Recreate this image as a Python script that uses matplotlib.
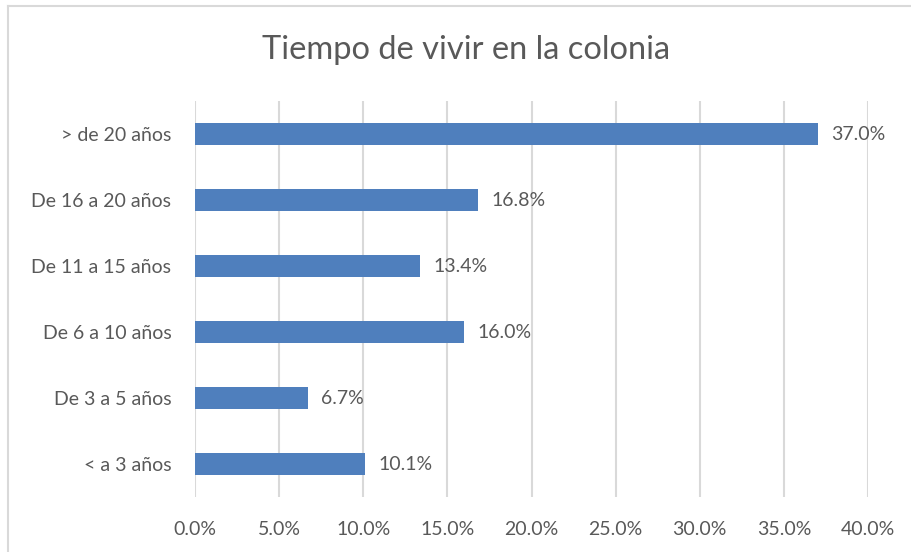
import matplotlib.pyplot as plt
from matplotlib.lines import Line2D

# Data (bottom to top as drawn)
categories = ['< a 3 años', 'De 3 a 5 años', 'De 6 a 10 años',
              'De 11 a 15 años', 'De 16 a 20 años', '> de 20 años']
values = [10.1, 6.7, 16.0, 13.4, 16.8, 37.0]
xticks = [0, 5, 10, 15, 20, 25, 30, 35, 40]

bar_color = '#4f7fbd'
text_color = '#595959'
grid_color = '#d9d9d9'

plt.rcParams['font.family'] = ['Lato', 'DejaVu Sans']

fig = plt.figure(figsize=(9.12, 5.52), dpi=100)
ax = fig.add_axes([195 / 912, 1 - 497 / 552, (868 - 195) / 912, 396 / 552])

ypos = range(len(categories))
ax.barh(ypos, values, height=0.34, color=bar_color, zorder=3)

for y, v in zip(ypos, values):
    ax.text(v + 0.8, y, f'{v:.1f}%', va='center', ha='left',
            fontsize=14, color=text_color)

ax.set_xlim(0, 40)
ax.set_ylim(-0.5, len(categories) - 0.5)
ax.set_xticks(xticks)
ax.set_xticklabels([f'{t:.1f}%' for t in xticks])
ax.set_yticks(list(ypos))
ax.set_yticklabels(categories)
ax.tick_params(axis='both', length=0, labelsize=14, labelcolor=text_color)
ax.tick_params(axis='x', pad=17)
ax.tick_params(axis='y', pad=17)
ax.grid(axis='x', color=grid_color, linewidth=1.5, zorder=0)
for s in ax.spines.values():
    s.set_visible(False)

fig.text(466 / 912, 1 - 50 / 552, 'Tiempo de vivir en la colonia',
         ha='center', va='center', fontsize=23.5, color=text_color)

# chart frame (left and top edges visible)
fig.add_artist(Line2D([8 / 912, 8 / 912], [0, 1 - 6 / 552],
                      transform=fig.transFigure, color=grid_color, linewidth=1.5))
fig.add_artist(Line2D([8 / 912, 1], [1 - 6 / 552, 1 - 6 / 552],
                      transform=fig.transFigure, color=grid_color, linewidth=1.5))

fig.savefig('out.png', dpi=100)
